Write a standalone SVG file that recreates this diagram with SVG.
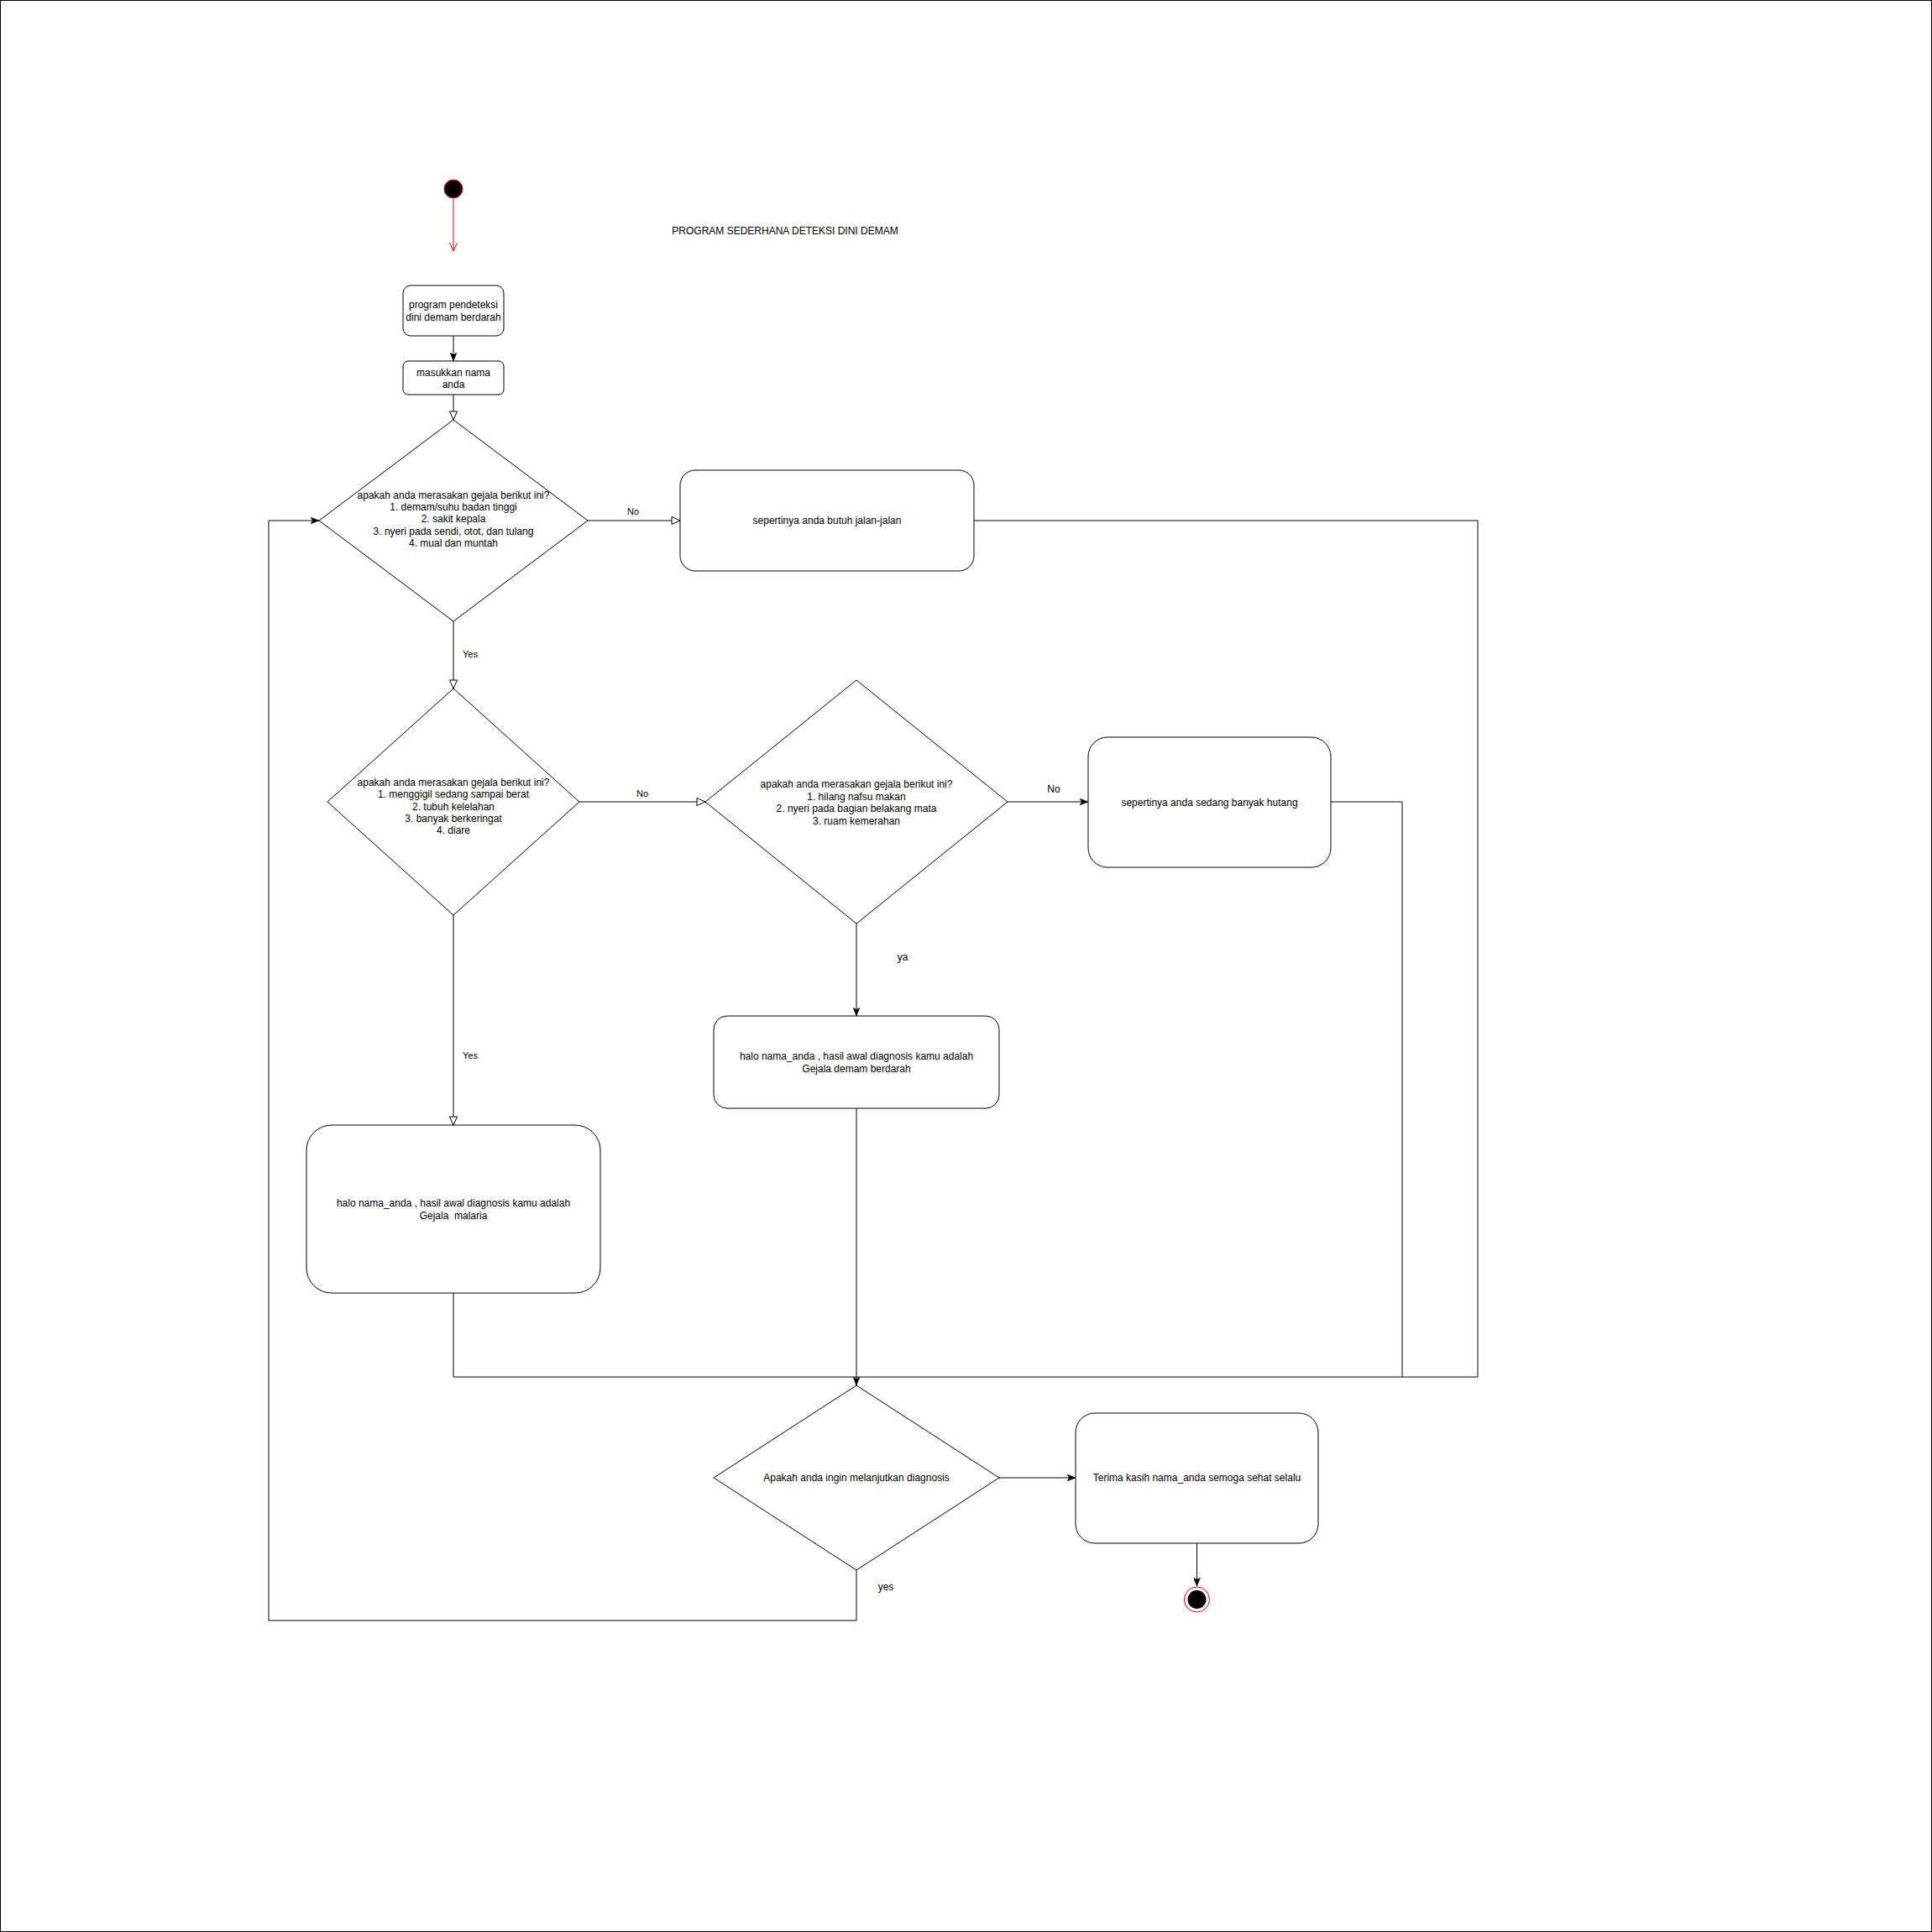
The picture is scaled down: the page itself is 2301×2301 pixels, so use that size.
<svg xmlns="http://www.w3.org/2000/svg" width="2301" height="2301" viewBox="0 0 2301 2301">
<style>
  .node { fill: #ffffff; stroke: #000000; stroke-width: 1; }
  .edge { fill: none; stroke: #000000; stroke-width: 1; }
  .t { font-family: "Liberation Sans", Arial, Helvetica, sans-serif; font-size: 12px; fill: #000000; text-anchor: middle; }
  .lbl { font-family: "Liberation Sans", Arial, Helvetica, sans-serif; font-size: 11px; fill: #000000; text-anchor: middle; }
</style>
<defs>
  <marker id="filled" markerUnits="userSpaceOnUse" viewBox="0 0 10 8" markerWidth="10" markerHeight="8" refX="10" refY="4" orient="auto">
    <path d="M0,0 L10,4 L0,8 L2.5,4 z" fill="#000000" stroke="#000000" stroke-width="0.5"/>
  </marker>
  <marker id="block" markerUnits="userSpaceOnUse" viewBox="-1 -1 12 11" markerWidth="12" markerHeight="11" refX="10" refY="4.5" orient="auto">
    <path d="M0,0 L10,4.5 L0,9 z" fill="#ffffff" stroke="#000000" stroke-width="1"/>
  </marker>
  <marker id="redopen" markerUnits="userSpaceOnUse" viewBox="-1 -1 12 11" markerWidth="12" markerHeight="11" refX="10" refY="4.5" orient="auto">
    <path d="M0,0 L10,4.5 L0,9" fill="none" stroke="#ff0000" stroke-width="1"/>
  </marker>
</defs>

<rect x="0.5" y="0.5" width="2300" height="2300" fill="#ffffff" stroke="#000000" stroke-width="1"/>

<g id="title">
  <text class="t" x="935" y="279">PROGRAM SEDERHANA DETEKSI DINI DEMAM</text>
</g>

<g id="connectors">
  <path class="edge" d="M540,237 L540,299" stroke="#ff0000" style="stroke:#ff0000" marker-end="url(#redopen)"/>
  <path class="edge" d="M540,400 L540,430" marker-end="url(#filled)"/>
  <path class="edge" d="M540,470 L540,500" marker-end="url(#block)"/>
  <path class="edge" d="M700,620 L810,620" marker-end="url(#block)"/>
  <path class="edge" d="M540,740 L540,820" marker-end="url(#block)"/>
  <path class="edge" d="M690,955 L840,955" marker-end="url(#block)"/>
  <path class="edge" d="M1200,955 L1296,955" marker-end="url(#filled)"/>
  <path class="edge" d="M1020,1100 L1020,1210" marker-end="url(#filled)"/>
  <path class="edge" d="M540,1090 L540,1340" marker-end="url(#block)"/>
  <path class="edge" d="M1020,1320 L1020,1650" marker-end="url(#filled)"/>
  <path class="edge" d="M540,1540 L540,1640 L1020,1640"/>
  <path class="edge" d="M1160,620 L1760,620 L1760,1640 L1020,1640"/>
  <path class="edge" d="M1585,955 L1670,955 L1670,1640"/>
  <path class="edge" d="M1190,1760 L1281,1760" marker-end="url(#filled)"/>
  <path class="edge" d="M1425.5,1838 L1425.5,1889" marker-end="url(#filled)"/>
  <path class="edge" d="M1020,1870 L1020,1930 L320,1930 L320,620 L380,620" marker-end="url(#filled)"/>
  <text class="lbl" x="754" y="613">No</text>
  <text class="lbl" x="560" y="783">Yes</text>
  <text class="lbl" x="765" y="949">No</text>
  <text class="t" x="1255" y="944">No</text>
  <text class="t" x="1075" y="1144">ya</text>
  <text class="lbl" x="560" y="1261">Yes</text>
  <text class="t" x="1055" y="1894">yes</text>
</g>

<g id="start">
  <circle cx="540" cy="225" r="11" fill="#000000" stroke="#ff0000" stroke-width="1"/>
</g>

<g id="box1">
  <rect class="node" x="480" y="340" width="120" height="60" rx="9" ry="9"/>
  <text class="t" x="540" y="367">program pendeteksi</text>
  <text class="t" x="540" y="382">dini demam berdarah</text>
</g>

<g id="box2">
  <rect class="node" x="480" y="430" width="120" height="40" rx="6" ry="6"/>
  <text class="t" x="540" y="447.5">masukkan nama</text>
  <text class="t" x="540" y="462">anda</text>
</g>

<g id="decision1">
  <polygon class="node" points="540,500 700,620 540,740 380,620"/>
  <text class="t" x="540" y="594">apakah anda merasakan gejala berikut ini?</text>
  <text class="t" x="540" y="608">1. demam/suhu badan tinggi</text>
  <text class="t" x="540" y="622">2. sakit kepala</text>
  <text class="t" x="540" y="637">3. nyeri pada sendi, otot, dan tulang</text>
  <text class="t" x="540" y="651">4. mual dan muntah</text>
</g>

<g id="box3">
  <rect class="node" x="810" y="560" width="350" height="120" rx="18" ry="18"/>
  <text class="t" x="985" y="624">sepertinya anda butuh jalan-jalan</text>
</g>

<g id="decision2">
  <polygon class="node" points="540,820 690,955 540,1090 390,955"/>
  <text class="t" x="540" y="936">apakah anda merasakan gejala berikut ini?</text>
  <text class="t" x="540" y="950">1. menggigil sedang sampai berat</text>
  <text class="t" x="540" y="965">2. tubuh kelelahan</text>
  <text class="t" x="540" y="979">3. banyak berkeringat</text>
  <text class="t" x="540" y="993">4. diare</text>
</g>

<g id="decision3">
  <polygon class="node" points="1020,810 1200,955 1020,1100 840,955"/>
  <text class="t" x="1020" y="938">apakah anda merasakan gejala berikut ini?</text>
  <text class="t" x="1020" y="952.5">1. hilang nafsu makan</text>
  <text class="t" x="1020" y="967">2. nyeri pada bagian belakang mata</text>
  <text class="t" x="1020" y="981.5">3. ruam kemerahan</text>
</g>

<g id="box4">
  <rect class="node" x="1296" y="878" width="289" height="155" rx="23" ry="23"/>
  <text class="t" x="1440.5" y="959.5">sepertinya anda sedang banyak hutang</text>
</g>

<g id="box5">
  <rect class="node" x="850" y="1210" width="340" height="110" rx="16" ry="16"/>
  <text class="t" x="1020" y="1262">halo nama_anda , hasil awal diagnosis kamu adalah</text>
  <text class="t" x="1020" y="1276.5">Gejala demam berdarah</text>
</g>

<g id="box6">
  <rect class="node" x="365" y="1340" width="350" height="200" rx="30" ry="30"/>
  <text class="t" x="540" y="1437">halo nama_anda , hasil awal diagnosis kamu adalah</text>
  <text class="t" x="540" y="1452" xml:space="preserve">Gejala  malaria</text>
</g>

<g id="decision4">
  <polygon class="node" points="1020,1650 1190,1760 1020,1870 850,1760"/>
  <text class="t" x="1020" y="1764">Apakah anda ingin melanjutkan diagnosis</text>
</g>

<g id="box7">
  <rect class="node" x="1281" y="1683" width="289" height="155" rx="23" ry="23"/>
  <text class="t" x="1425.5" y="1764">Terima kasih nama_anda semoga sehat selalu</text>
</g>

<g id="end">
  <circle cx="1425.5" cy="1905" r="15" fill="#ffffff" stroke="#ff0000" stroke-width="1"/>
  <circle cx="1425.5" cy="1905" r="11" fill="#000000" stroke="none"/>
</g>
</svg>
